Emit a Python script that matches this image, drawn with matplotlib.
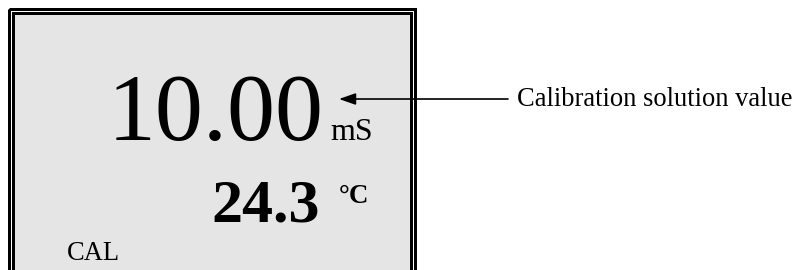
import matplotlib
matplotlib.use("Agg")
import matplotlib.pyplot as plt
from matplotlib.patches import Rectangle

# ---- content ----
main_value = "10.00"
main_unit = "mS"
temp_value = "24.3"
temp_unit = "°C"
mode_label = "CAL"
annotation = "Calibration solution value"

W, H = 796, 270
fig = plt.figure(figsize=(W / 100, H / 100), dpi=100)
ax = fig.add_axes([0, 0, 1, 1])
ax.set_xlim(0, W)
ax.set_ylim(H, 0)
ax.axis("off")

px = 72 / 100  # points per pixel
serif = ["Liberation Serif", "DejaVu Serif"]

# display frame (double border, extends past bottom)
ax.add_patch(Rectangle((13, 13), 398, 280, facecolor="#e5e5e5",
                       edgecolor="black", linewidth=3 * px))
ax.add_patch(Rectangle((9, 9), 406, 290, facecolor="none",
                       edgecolor="black", linewidth=3 * px))

# readings
ax.text(324, 140, main_value, family=serif, fontsize=96 * px,
        ha="right", va="baseline", color="black")
ax.text(330, 140, main_unit, family=serif, fontsize=32 * px,
        ha="left", va="baseline", color="black")
ax.text(320, 222, temp_value, family=serif, fontsize=62 * px,
        fontweight="bold", ha="right", va="baseline", color="black")
ax.text(339, 203, temp_unit, family=serif, fontsize=27 * px,
        fontweight="bold", ha="left", va="baseline", color="black")
ax.text(67, 260, mode_label, family=serif, fontsize=26.5 * px,
        ha="left", va="baseline", color="black")

# annotation arrow
ax.annotate("", xy=(339, 99), xytext=(508, 99),
            arrowprops=dict(arrowstyle="-|>,head_length=1.0,head_width=0.35",
                            color="black", lw=1.2, shrinkA=0, shrinkB=0))
ax.text(517, 106, annotation, family=serif, fontsize=26.5 * px,
        ha="left", va="baseline", color="black")

fig.savefig("out.png", dpi=100)
